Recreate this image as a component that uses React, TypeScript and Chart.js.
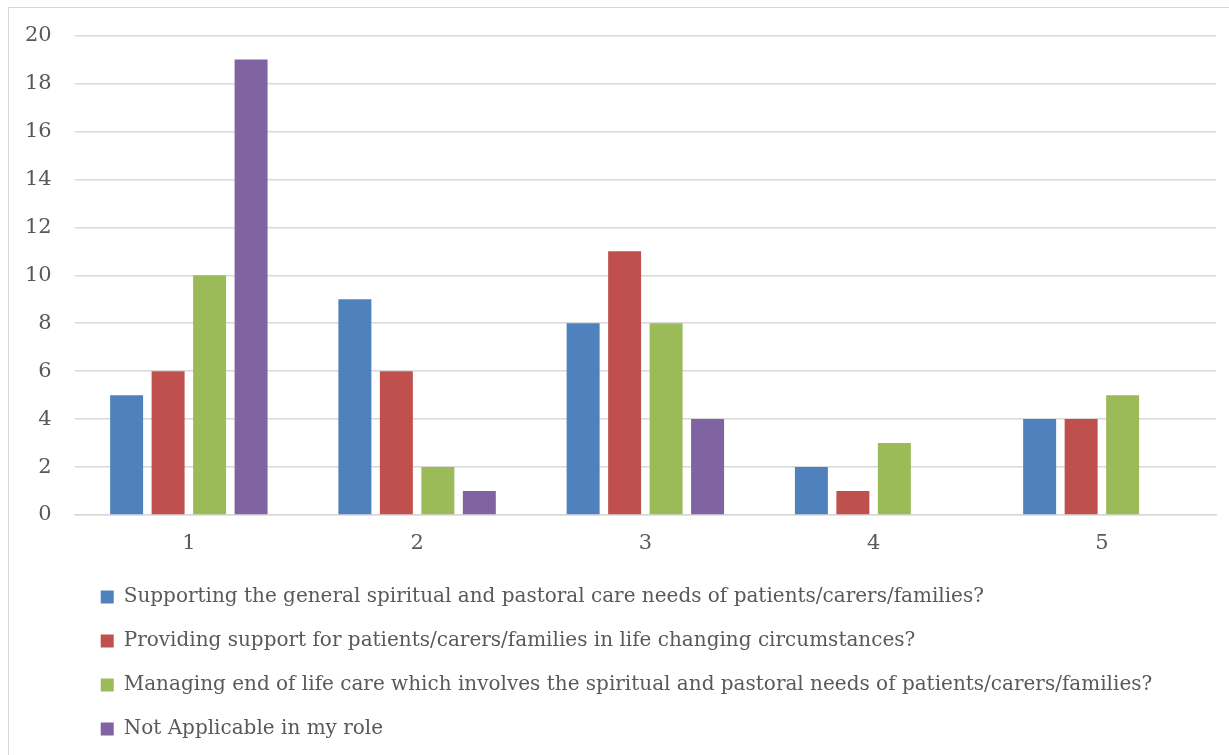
import React, { useEffect, useRef } from "react";
import { Chart, registerables } from "chart.js";

Chart.register(...registerables);

const categories = ["1", "2", "3", "4", "5"];
const seriesNames = [
  "Supporting the general spiritual and pastoral care needs of patients/carers/families?",
  "Providing support for patients/carers/families in life changing circumstances?",
  "Managing end of life care which involves the spiritual and pastoral needs of patients/carers/families?",
  "Not Applicable in my role",
];
const supportingGeneral = [5, 9, 8, 2, 4];
const lifeChanging = [6, 6, 11, 1, 4];
const endOfLife = [10, 2, 8, 3, 5];
const notApplicable = [19, 1, 4, 0, 0];
const colors = ["#4f81bd", "#c0504d", "#9bbb59", "#8064a2"];

const FONT = "'DejaVu Serif', 'Liberation Serif', serif";

export default function App() {
  const ref = useRef<HTMLCanvasElement | null>(null);

  useEffect(() => {
    document.body.style.overflow = "hidden";
    const canvas = ref.current;
    if (!canvas) return;
    const values = [supportingGeneral, lifeChanging, endOfLife, notApplicable];
    const shiftLegend = {
      id: "shiftLegend",
      afterLayout(chart: any) {
        const l = chart.legend;
        if (l) {
          l.left += 2;
          l.right += 2;
        }
      },
    };
    const chart = new Chart(canvas, {
      type: "bar",
      data: {
        labels: categories,
        datasets: seriesNames.map((name, i) => ({
          label: name,
          data: values[i],
          backgroundColor: colors[i],
          borderWidth: 0,
          categoryPercentage: 0.727,
          barPercentage: 0.795,
        })),
      },
      options: {
        animation: false,
        responsive: false,
        maintainAspectRatio: false,
        layout: { padding: { left: 2, right: 13, top: 30, bottom: 6 } },
        scales: {
          x: {
            grid: { display: false, drawTicks: false },
            border: { display: true, color: "#d9d9d9", width: 1.5 },
            ticks: {
              color: "#595959",
              font: { family: FONT, size: 21 },
              padding: 16,
            },
            afterFit(scale: any) {
              scale.height = 48;
            },
          },
          y: {
            min: 0,
            max: 20,
            grid: { color: "#d9d9d9", lineWidth: 1.5, drawTicks: false },
            border: { display: false },
            ticks: {
              stepSize: 2,
              color: "#595959",
              font: { family: FONT, size: 21 },
              padding: 23,
            },
          },
        },
        plugins: {
          legend: {
            position: "bottom",
            align: "start",
            fullSize: false,
            labels: {
              boxWidth: 13,
              boxHeight: 13,
              padding: 24,
              color: "#595959",
              font: { family: FONT, size: 20 },
            },
          },
          tooltip: { enabled: false },
        },
      },
      plugins: [shiftLegend],
    });
    return () => chart.destroy();
  }, []);

  return (
    <>
      <div
        style={{
          position: "fixed",
          left: 8,
          top: 7,
          width: 1225,
          height: 752,
          borderLeft: "1.5px solid #d9d9d9",
          borderTop: "1.5px solid #d9d9d9",
        }}
      />
      <canvas
        ref={ref}
        width={1229}
        height={755}
        style={{ position: "fixed", left: 0, top: 0, width: 1229, height: 755 }}
      />
    </>
  );
}
